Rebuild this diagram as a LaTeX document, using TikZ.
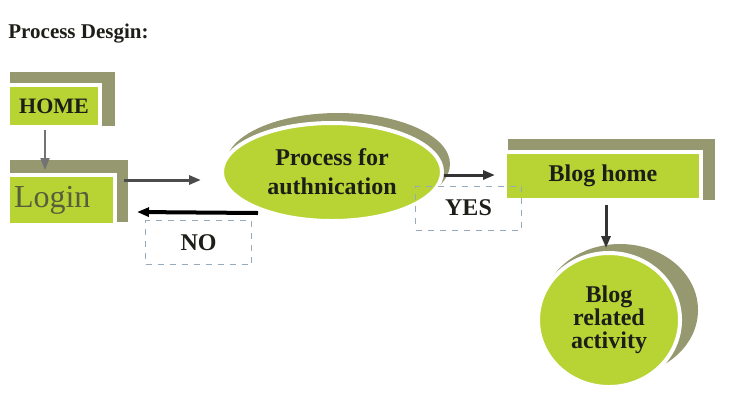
\documentclass[tikz,border=0pt]{standalone}
\usepackage{fontspec}
\setmainfont{Liberation Serif}
\usetikzlibrary{calc}
\usetikzlibrary{positioning}
\usetikzlibrary{shapes.geometric}
\usetikzlibrary{arrows.meta}
\usetikzlibrary{backgrounds}
\definecolor{leaf}{RGB}{183,212,52}
\definecolor{bark}{RGB}{150,152,112}
\definecolor{ink}{RGB}{30,30,25}
\definecolor{moss}{RGB}{85,95,60}
\definecolor{dashblue}{RGB}{150,170,190}
\tikzstyle{boxnode} = [rectangle, fill=leaf, draw=white, line width=2pt, text=ink, font=\fontsize{12}{14}\selectfont\bfseries, align=center, inner sep=0pt]
\tikzstyle{ovalnode} = [ellipse, fill=leaf, draw=white, line width=2pt, text=ink, font=\fontsize{12}{11.5}\selectfont\bfseries, align=center, inner sep=0pt]
\tikzstyle{answernode} = [rectangle, draw=dashblue, dash pattern=on 3pt off 3pt, line width=0.4pt, text=ink, font=\fontsize{12}{14}\selectfont\bfseries, minimum width=53pt, minimum height=22pt]
\tikzstyle{backdrop} = [fill=bark]
\tikzstyle{flow} = [-{Triangle[length=6pt,width=4.5pt]}]

\begin{document}
\begin{tikzpicture}[x=0.5pt, y=-0.5pt]
\useasboundingbox (0,0) rectangle (732,403);
\node[anchor=base west, inner sep=0pt, text=ink, font=\fontsize{10.5}{13}\selectfont\bfseries] (title) at (8,38) {Process Desgin:};

\node[boxnode, minimum width=46pt, minimum height=21pt, font=\fontsize{11}{13}\selectfont\bfseries] (home) at (54,106) {HOME};
\node[boxnode, text width=47.5pt, inner xsep=3pt, minimum height=25pt, align=left, text=moss, font=\fontsize{16}{17}\selectfont] (login) at ($(home)+(7.5,94)$) {Login};
\node[ovalnode, minimum width=110pt, minimum height=49pt, font=\fontsize{12}{14.5}\selectfont\bfseries] (auth) at ($(login)+(270.5,-28)$) {Process for\\authnication};
\node[boxnode, minimum width=98pt, minimum height=24pt] (blog) at ($(auth)+(271,4)$) {Blog home};
\node[ovalnode, minimum width=71pt, minimum height=67pt] (act) at ($(blog)+(6,144)$) {Blog\\related\\activity};

\node[answernode] (no) at ($(auth)+(-133.5,70.5)$) {NO};
\node[answernode] (yes) at ($(auth)+(136.5,36)$) {YES};

% shadows behind the green shapes
\begin{scope}[on background layer]
\fill[backdrop] ($(home.north west)+(4,-11)$) rectangle ($(home.south east)+(13,-3)$);
\fill[backdrop] ($(login.north west)+(4,-13)$) rectangle ($(login.south east)+(11,-5)$);
\fill[backdrop] ($(blog.north west)+(5,-11)$) rectangle ($(blog.south east)+(12,-2)$);
\fill[backdrop] ($(auth)+(6,-8)$) ellipse [x radius=56pt, y radius=25.5pt];
\fill[backdrop] ($(act)+(11,-10)$) ellipse [x radius=39pt, y radius=33pt];
\end{scope}

\draw[flow, line width=1pt, color=gray!90!black] ($(home.south)+(-9,1)$) -- ($(login.north)+(-16.5,-3)$);
\draw[flow, line width=1.5pt, color=black!70] ($(login.east)+(7,-20)$) -- ($(auth.west)+(-19,8)$);
\draw[flow, line width=2pt, color=black] ($(auth.south)+(-74,-10)$) -- ($(login.east)+(20,12)$);
\draw[flow, line width=1.5pt, color=black!80] ($(auth.east)+(0,3)$) -- ($(blog.west)+(-8,-1)$);
\draw[flow, line width=1.5pt, color=black!80] ($(blog.south)+(3,3)$) -- ($(act.north)+(-3,-3)$);
\end{tikzpicture}
\end{document}
